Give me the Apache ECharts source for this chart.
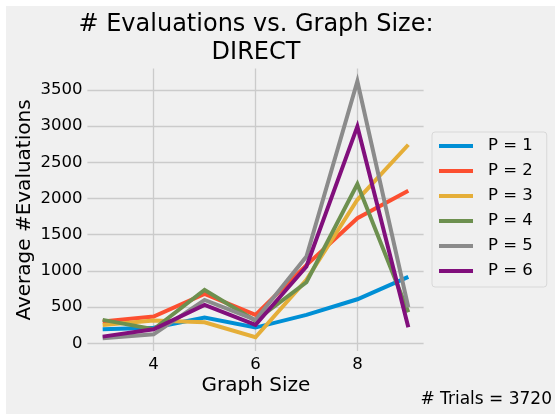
<!DOCTYPE html>
<html>
<head>
<meta charset="utf-8">
<script src="https://cdn.jsdelivr.net/npm/echarts@6/dist/echarts.min.js"></script>
<style>
html,body{margin:0;padding:0;background:#fff;}
#c{width:555px;height:414px;}
</style>
</head>
<body>
<div id="c"></div>
<script>
const graphSizes = [3, 4, 5, 6, 7, 8, 9];
const seriesNames = ['P = 1', 'P = 2', 'P = 3', 'P = 4', 'P = 5', 'P = 6'];
const p1 = [194, 215, 355, 217, 392, 608, 917];
const p2 = [300, 369, 682, 392, 1080, 1728, 2106];
const p3 = [253, 313, 290, 83, 876, 1982, 2742];
const p4 = [323, 194, 737, 313, 843, 2198, 430];
const p5 = [69, 124, 599, 323, 1198, 3618, 498];
const p6 = [92, 194, 530, 253, 1060, 2995, 221];
const xTicks = [4, 6, 8];
const yTicks = [0, 500, 1000, 1500, 2000, 2500, 3000, 3500];
const colors = ['#008fd5', '#fc4f30', '#e5ae38', '#6d904f', '#8b8b8b', '#810f7c'];
const allValues = [p1, p2, p3, p4, p5, p6];

const chart = echarts.init(document.getElementById('c'), null, {renderer: 'canvas'});
const font = 'DejaVu Sans';

chart.setOption({
  backgroundColor: '#ffffff',
  animation: false,
  textStyle: {fontFamily: font},
  grid: {left: 87.4, right: 131.4, top: 68.5, bottom: 62.9, containLabel: false},
  xAxis: {
    type: 'value', min: 2.7, max: 9.3,
    axisLine: {show: false},
    axisTick: {show: false, customValues: xTicks},
    axisLabel: {customValues: xTicks, color: '#000', fontSize: 16.5, fontFamily: font, margin: 5, formatter: v => String(v)},
    splitLine: {show: true, lineStyle: {color: '#cbcbcb', width: 1.3}}
  },
  yAxis: {
    type: 'value', min: -108, max: 3795,
    axisLine: {show: false},
    axisTick: {show: false, customValues: yTicks},
    axisLabel: {customValues: yTicks, color: '#000', fontSize: 16.5, fontFamily: font, margin: 5, formatter: v => String(v)},
    splitLine: {show: true, lineStyle: {color: '#cbcbcb', width: 1.3}}
  },
  legend: {
    left: 432, top: 132, orient: 'vertical',
    backgroundColor: '#f0f0f0', borderColor: '#d8d8d8', borderWidth: 1, borderRadius: 3,
    padding: [4, 14, 6, 7],
    itemWidth: 34, itemHeight: 4, itemGap: 5, icon: 'rect',
    textStyle: {fontSize: 16.5, color: '#000', fontFamily: font, lineHeight: 20, padding: [0, 0, 0, 10]},
    data: seriesNames
  },
  graphic: [
    {type: 'rect', z: -10, silent: true, shape: {x: 6, y: 6, width: 549, height: 408}, style: {fill: '#f0f0f0'}},
    {type: 'text', x: 256, y: 25, style: {text: '# Evaluations vs. Graph Size:', font: '24px "DejaVu Sans"', fill: '#000', align: 'center', verticalAlign: 'middle'}},
    {type: 'text', x: 256, y: 53, style: {text: 'DIRECT', font: '24px "DejaVu Sans"', fill: '#000', align: 'center', verticalAlign: 'middle'}},
    {type: 'text', x: 256, y: 386, style: {text: 'Graph Size', font: '20px "DejaVu Sans"', fill: '#000', align: 'center', verticalAlign: 'middle'}},
    {type: 'text', x: 25, y: 210, rotation: Math.PI / 2, style: {text: 'Average #Evaluations', font: '20px "DejaVu Sans"', fill: '#000', align: 'center', verticalAlign: 'middle'}},
    {type: 'text', x: 552, y: 400, style: {text: '# Trials = 3720', font: '17px "DejaVu Sans"', fill: '#000', align: 'right', verticalAlign: 'middle'}}
  ],
  series: seriesNames.map((n, i) => ({
    name: n, type: 'line', showSymbol: false, symbol: 'none',
    lineStyle: {width: 4, color: colors[i], join: 'miter'},
    itemStyle: {color: colors[i]},
    data: graphSizes.map((x, j) => [x, allValues[i][j]])
  }))
});
</script>
</body>
</html>
